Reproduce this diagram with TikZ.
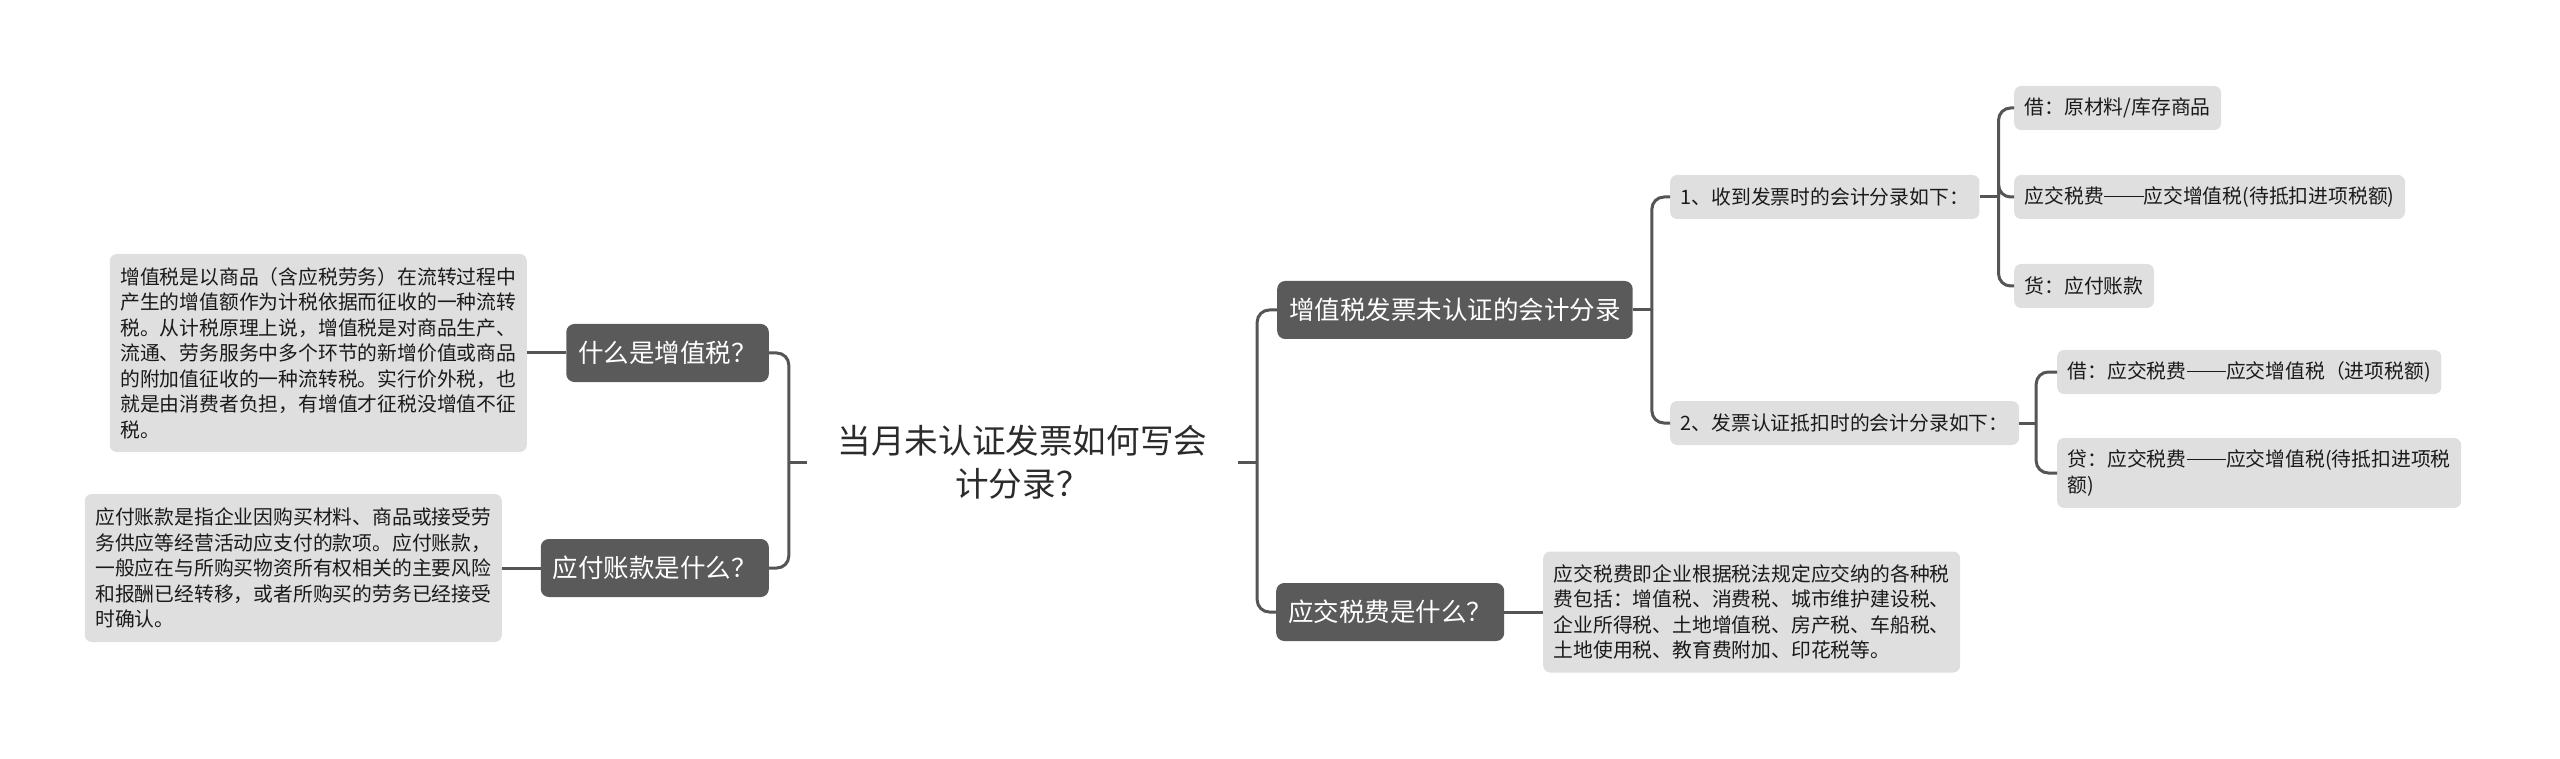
\documentclass[tikz,border=0pt]{standalone}
\usepackage{fontspec}
\newfontfamily\cjk{Noto Sans CJK SC}
\definecolor{topicfill}{HTML}{5A5A5A}
\definecolor{leaffill}{HTML}{DFDFDF}
\definecolor{linecol}{HTML}{555555}
\definecolor{leaftext}{HTML}{1A1A1A}
\definecolor{roottext}{HTML}{2B2B2B}
\newcommand\longdash{\makebox[2em]{\rule[0.34em]{2em}{0.055em}}}
\tikzset{
  leaf/.style={fill=leaffill, rounded corners=7pt, inner xsep=10.5pt, inner ysep=0pt,
    minimum height=44pt, text=leaftext, align=left,
    font={\cjk\fontsize{19.8}{25.5}\selectfont}},
  topic/.style={fill=topicfill, rounded corners=8pt, inner xsep=12pt, inner ysep=0pt,
    minimum height=58pt, text=white,
    font={\cjk\fontsize{25.5}{30}\selectfont}},
  rootnode/.style={inner sep=0pt, minimum width=431pt, minimum height=100pt, align=center,
    text=roottext, font={\cjk\fontsize{33.6}{43}\selectfont}},
  conn/.style={draw=linecol, line width=3pt, rounded corners=12pt},
}
\begin{document}
\begin{tikzpicture}[x=1pt,y=-1pt]
\useasboundingbox (0,0) rectangle (2560,759);

% root
\node[rootnode] (root) at (1022.5,462) {当月未认证发票如何写会\\计分录？};

% left side
\node[topic, anchor=east] (A) at (769,353) {什么是增值税？};
\node[topic, anchor=east] (B) at (769,568) {应付账款是什么？};
\node[leaf, anchor=east, minimum height=198pt] (box1) at (527,353)
  {增值税是以商品（含应税劳务）在流转过程中\\产生的增值额作为计税依据而征收的一种流转\\税。从计税原理上说，增值税是对商品生产、\\流通、劳务服务中多个环节的新增价值或商品\\的附加值征收的一种流转税。实行价外税，也\\就是由消费者负担，有增值才征税没增值不征\\税。};
\node[leaf, anchor=east, minimum height=148pt] (box2) at (502,568)
  {应付账款是指企业因购买材料、商品或接受劳\\务供应等经营活动应支付的款项。应付账款，\\一般应在与所购买物资所有权相关的主要风险\\和报酬已经转移，或者所购买的劳务已经接受\\时确认。};

% right side
\node[topic, anchor=west] (C) at (1277,310) {增值税发票未认证的会计分录};
\node[topic, anchor=west] (D) at (1276,612) {应交税费是什么？};
\node[leaf, anchor=west, minimum height=121pt] (E) at (1543,612)
  {应交税费即企业根据税法规定应交纳的各种税\\费包括：增值税、消费税、城市维护建设税、\\企业所得税、土地增值税、房产税、车船税、\\土地使用税、教育费附加、印花税等。};

\node[leaf, anchor=west] (F) at (1670,197) {1、收到发票时的会计分录如下：};
\node[leaf, anchor=west] (G) at (1670,423) {2、发票认证抵扣时的会计分录如下：};

\node[leaf, anchor=west] (H1) at (2014,108) {借：原材料/库存商品};
\node[leaf, anchor=west] (H2) at (2014,197) {应交税费\longdash 应交增值税(待抵扣进项税额)};
\node[leaf, anchor=west] (H3) at (2014,286) {货：应付账款};

\node[leaf, anchor=west] (I1) at (2057,372) {借：应交税费\longdash 应交增值税（进项税额)};
\node[leaf, anchor=west, minimum height=70pt] (I2) at (2057,473) {贷：应交税费\longdash 应交增值税(待抵扣进项税\\额)};

% junction coordinates
\path (root.west) ++(-18,0) coordinate (vL);
\path (root.east) ++(19,0) coordinate (vR);
\path (C.east) ++(19,0) coordinate (vC);
\path (F.east) ++(19,0) coordinate (vF);
\path (G.east) ++(17,0) coordinate (vG);

% connectors
\draw[conn] (root.west) -- (vL);
\draw[conn] (vL) |- (A.east);
\draw[conn] (vL) |- (B.east);
\draw[conn] (A.west) -- (box1.east);
\draw[conn] (B.west) -- (box2.east);

\draw[conn] (root.east) -- (vR);
\draw[conn] (vR) |- (C.west);
\draw[conn] (vR) |- (D.west);
\draw[conn] (D.east) -- (E.west);

\draw[conn] (C.east) -- (vC);
\draw[conn] (vC) |- (F.west);
\draw[conn] (vC) |- (G.west);

\draw[conn] (F.east) -- (vF);
\draw[conn] (vF) |- (H1.west);
\draw[conn] (vF) |- (H2.west);
\draw[conn] (vF) |- (H3.west);

\draw[conn] (G.east) -- (vG);
\draw[conn] (vG) |- (I1.west);
\draw[conn] (vG) |- (I2.west);
\end{tikzpicture}
\end{document}
